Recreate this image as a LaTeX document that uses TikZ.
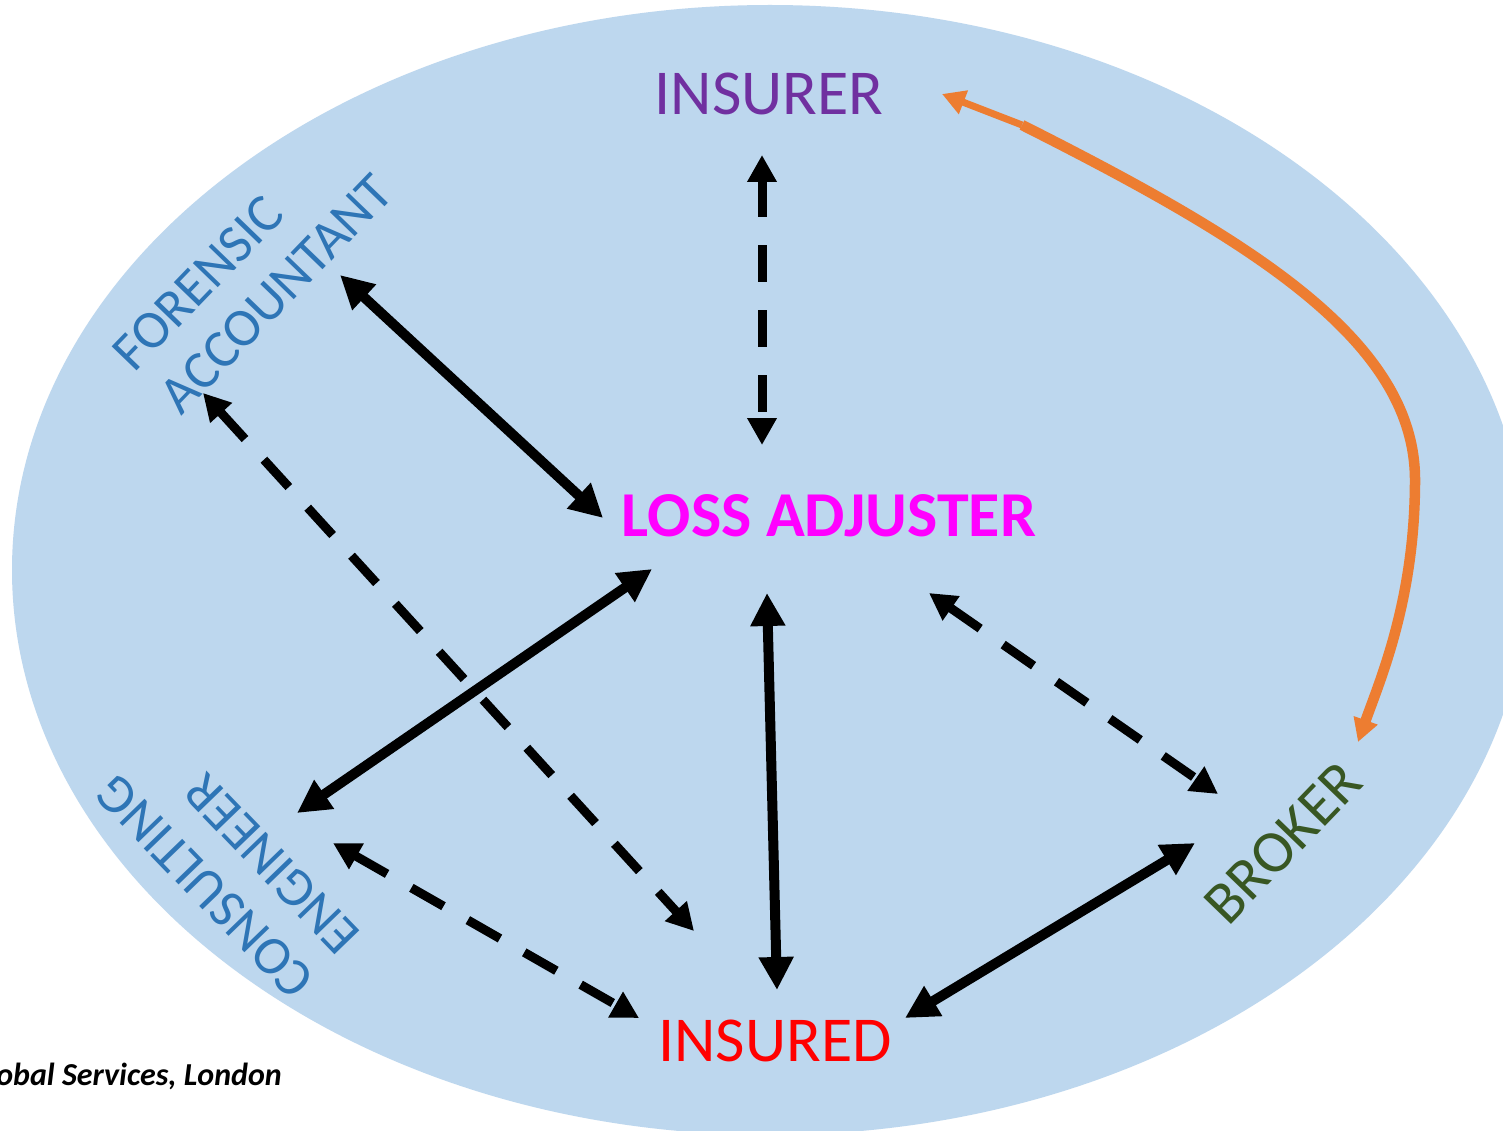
\documentclass[tikz,border=0pt]{standalone}
\usepackage{fontspec}
\setmainfont{Carlito}
\usetikzlibrary{arrows.meta}
\definecolor{bgblue}{HTML}{BDD7EE}
\definecolor{insurerpurple}{HTML}{7030A0}
\definecolor{lamagenta}{HTML}{FF00FF}
\definecolor{insuredred}{HTML}{FF0000}
\definecolor{txtblue}{HTML}{2E75B6}
\definecolor{brokergreen}{HTML}{385723}
\definecolor{arrorange}{HTML}{ED7D31}
\begin{document}
\begin{tikzpicture}[x=1pt,y=-1pt,
  lbl/.style={inner sep=0pt, font=\fontsize{64}{72}\selectfont},
  rlbl/.style={inner sep=0pt, font=\fontsize{54}{63}\selectfont},
  solidarrow/.style={line width=10pt, {Triangle[length=33pt,width=33pt]}-{Triangle[length=33pt,width=33pt]}},
  dasharrow/.style={line width=9pt, dash pattern=on 37pt off 28pt, {Triangle[length=27pt,width=28pt]}-{Triangle[length=27pt,width=28pt]}},
  orangearrow/.style={draw=arrorange, -{Triangle[length=23pt,width=24pt]}},
]
\useasboundingbox (0,0) rectangle (1503,1131);
\fill[white] (0,0) rectangle (1503,1131);
\begin{scope}
  \clip (0,0) rectangle (1503,1131);
  \fill[bgblue] (770,570) ellipse [x radius=758pt, y radius=565pt];
\end{scope}

% labels
\node[lbl, text=insurerpurple] (insurer) at (769,93.5) {INSURER};
\node[lbl, text=lamagenta, font=\fontsize{64}{72}\selectfont\bfseries] (adjuster) at (829,516) {LOSS ADJUSTER};
\node[lbl, text=insuredred] (insured) at (775,1041) {INSURED};
\node[rlbl, text=brokergreen, rotate=46, font=\fontsize{60}{66}\selectfont] (broker) at (1283,843) {BROKER};
\node[rlbl, text=txtblue, rotate=46] (forensic) at (198,283) {FORENSIC};
\node[rlbl, text=txtblue, rotate=46] (accountant) at (276,294) {ACCOUNTANT};
\node[rlbl, text=txtblue, rotate=134] (consulting) at (205,887) {CONSULTING};
\node[rlbl, text=txtblue, rotate=134] (engineer) at (272,864) {ENGINEER};
\node[inner sep=0pt, anchor=base east, font=\fontsize{32}{38}\selectfont\bfseries\itshape] (source) at (282,1085) {obal Services, London};

% arrow end points
\coordinate (ins-s) at (762,155);
\coordinate (la-n) at (762,445);
\coordinate (fa-a) at (340,275);
\coordinate (la-w) at (603,518);
\coordinate (fa-b) at (203,393);
\coordinate (id-nw) at (694,931);
\coordinate (la-sw) at (652,569);
\coordinate (ce-a) at (297,813);
\coordinate (la-s) at (767,593);
\coordinate (id-n) at (777,990);
\coordinate (la-se) at (929,593);
\coordinate (br-a) at (1218,794);
\coordinate (ce-b) at (333,843);
\coordinate (id-w) at (639,1018);
\coordinate (id-e) at (905,1018);
\coordinate (br-b) at (1195,843);
\coordinate (or-tip) at (942,94);
\coordinate (or-k) at (1022,125);
\coordinate (or-m) at (1415,480);
\coordinate (br-tip) at (1358,742);

% black arrows
\draw[dasharrow] (ins-s) -- (la-n);
\draw[solidarrow] (fa-a) -- (la-w);
\draw[dasharrow] (fa-b) -- (id-nw);
\draw[solidarrow] (la-sw) -- (ce-a);
\draw[solidarrow] (la-s) -- (id-n);
\draw[dasharrow] (la-se) -- (br-a);
\draw[dasharrow] (ce-b) -- (id-w);
\draw[solidarrow] (id-e) -- (br-b);

% orange arrow broker -> insurer
\draw[orangearrow, line width=7pt] (or-k) -- (or-tip);
\draw[orangearrow, line width=10.5pt] (or-k) .. controls (1250,240) and (1415,340) .. (or-m)
  .. controls (1415,600) and (1380,680) .. (br-tip);
\end{tikzpicture}
\end{document}
